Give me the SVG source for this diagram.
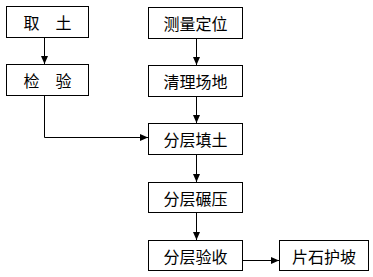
<svg xmlns="http://www.w3.org/2000/svg" width="373" height="277" viewBox="0 0 373 277">
<style>
.box{fill:#fff;stroke:#000;stroke-width:1}
.t{font-family:"Noto Sans CJK SC","Noto Sans CJK JP",sans-serif;font-size:16px;fill:#000;text-anchor:middle;dominant-baseline:central}
.c{fill:none;stroke:#000;stroke-width:1}
</style>
<defs>
<marker id="a" viewBox="0 0 8 8" refX="8" refY="4" markerWidth="8" markerHeight="8" markerUnits="userSpaceOnUse" orient="auto">
<path d="M0,0.5 L8,4 L0,7.5 Z" fill="#000"/>
</marker>
</defs>
<rect width="373" height="277" fill="#fff"/>
<g id="connectors">
<path class="c" d="M44.5,37.5 V64" marker-end="url(#a)"/>
<path class="c" d="M196.5,38.5 V65" marker-end="url(#a)"/>
<path class="c" d="M196.5,97 V123" marker-end="url(#a)"/>
<path class="c" d="M44.5,95.5 V137.5 H148" marker-end="url(#a)"/>
<path class="c" d="M196.5,154.5 V182" marker-end="url(#a)"/>
<path class="c" d="M196.5,212.5 V240" marker-end="url(#a)"/>
<path class="c" d="M242.5,260.5 H279" marker-end="url(#a)"/>
</g>
<g id="n1"><rect class="box" x="6.5" y="6.5" width="82" height="31"/><text class="t" x="47.5" y="22">取　土</text></g>
<g id="n2"><rect class="box" x="6.5" y="64.5" width="82" height="31"/><text class="t" x="47.5" y="80">检　验</text></g>
<g id="n3"><rect class="box" x="148.5" y="7.5" width="94" height="31"/><text class="t" x="195.5" y="23">测量定位</text></g>
<g id="n4"><rect class="box" x="148.5" y="65.5" width="94" height="31"/><text class="t" x="195.5" y="81">清理场地</text></g>
<g id="n5"><rect class="box" x="148.5" y="123.5" width="94" height="31"/><text class="t" x="195.5" y="139">分层填土</text></g>
<g id="n6"><rect class="box" x="148.5" y="182.5" width="94" height="30"/><text class="t" x="195.5" y="197.5">分层碾压</text></g>
<g id="n7"><rect class="box" x="148.5" y="240.5" width="94" height="30"/><text class="t" x="195.5" y="255.5">分层验收</text></g>
<g id="n8"><rect class="box" x="279.5" y="240.5" width="89" height="30"/><text class="t" x="324" y="255.5">片石护坡</text></g>
</svg>
